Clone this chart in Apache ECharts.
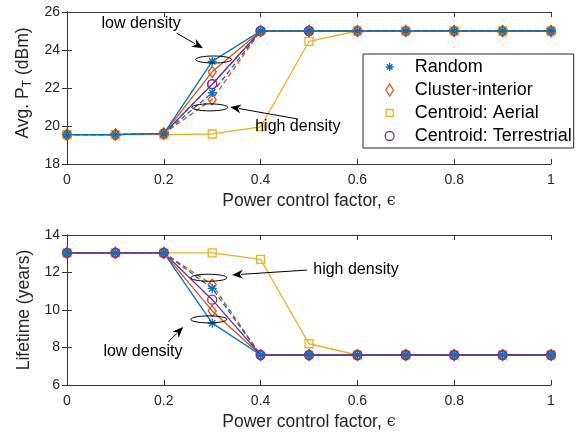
<!DOCTYPE html>
<html>
<head>
<meta charset="utf-8">
<script src="https://cdn.jsdelivr.net/npm/echarts@6/dist/echarts.min.js"></script>
<style>
html, body { margin: 0; padding: 0; background: #fff; }
#main { width: 579px; height: 435px; }
</style>
</head>
<body>
<div id="main"></div>
<script>
// power control factor
const xs = [0, 0.1, 0.2, 0.3, 0.4, 0.5, 0.6, 0.7, 0.8, 0.9, 1]

// Avg. P_T (dBm)
const pRandomLow = [19.55, 19.55, 19.6, 23.4, 25, 25, 25, 25, 25, 25, 25]
const pRandomHigh = [19.55, 19.55, 19.6, 21.75, 25, 25, 25, 25, 25, 25, 25]
const pClusterLow = [19.55, 19.55, 19.6, 22.85, 25, 25, 25, 25, 25, 25, 25]
const pClusterHigh = [19.55, 19.55, 19.6, 21.4, 25, 25, 25, 25, 25, 25, 25]
const pAerial = [19.55, 19.55, 19.55, 19.58, 19.95, 24.45, 25, 25, 25, 25, 25]
const pTerrestrial = [19.55, 19.55, 19.6, 22.2, 25, 25, 25, 25, 25, 25, 25]

// Lifetime (years)
const lRandomLow = [13.05, 13.05, 13.05, 9.3, 7.6, 7.6, 7.6, 7.6, 7.6, 7.6, 7.6]
const lRandomHigh = [13.05, 13.05, 13.05, 11.15, 7.6, 7.6, 7.6, 7.6, 7.6, 7.6, 7.6]
const lClusterLow = [13.05, 13.05, 13.05, 9.95, 7.6, 7.6, 7.6, 7.6, 7.6, 7.6, 7.6]
const lClusterHigh = [13.05, 13.05, 13.05, 11.35, 7.6, 7.6, 7.6, 7.6, 7.6, 7.6, 7.6]
const lAerial = [13.05, 13.05, 13.05, 13.05, 12.7, 8.2, 7.6, 7.6, 7.6, 7.6, 7.6]
const lTerrestrial = [13.05, 13.05, 13.05, 10.55, 7.6, 7.6, 7.6, 7.6, 7.6, 7.6, 7.6]

const names = ['Random', 'Cluster-interior', 'Centroid: Aerial', 'Centroid: Terrestrial']
const colors = ['#0072BD', '#D95319', '#EDB120', '#7E2F8E']

// marker paths (MATLAB style)
const STAR = 'path://M0,-10L0,10M-10,0L10,0M-7,-7L7,7M-7,7L7,-7'
const DIAMOND = 'path://M0,-7L5,0L0,7L-5,0Z'
const SQUARE = 'path://M-5,-5L5,-5L5,5L-5,5Z'
const CIRCLE = 'path://M-5,0A5,5,0,1,1,5,0A5,5,0,1,1,-5,0Z'
const symbols = [STAR, DIAMOND, SQUARE, CIRCLE]
const sizes = [9, [8, 11], 8, 9]

// 图例用的图标：同一个 14x14 外框，方便控制各自大小
const BOX = 'M-7,-7L-7,-7M7,7L7,7'
const legendIcons = [
  'path://' + BOX + 'M0,-4L0,4M-4,0L4,0M-2.8,-2.8L2.8,2.8M-2.8,2.8L2.8,-2.8',
  'path://' + BOX + 'M0,-6L3.8,0L0,6L-3.8,0Z',
  'path://' + BOX + 'M-3.5,-3.5L3.5,-3.5L3.5,3.5L-3.5,3.5Z',
  'path://' + BOX + 'M-4.5,0A4.5,4.5,0,1,1,4.5,0A4.5,4.5,0,1,1,-4.5,0Z'
]

const font = 'Liberation Sans, Arial, Helvetica, sans-serif'
const axisColor = '#333'

// 建一条折线
const mk = (k, ys, dashed, g) => {
  return {
    name: names[k],
    type: 'line',
    xAxisIndex: g * 2,
    yAxisIndex: g * 2,
    data: xs.map((x, i) => [x, ys[i]]),
    symbol: symbols[k],
    symbolSize: sizes[k],
    showAllSymbol: true,
    lineStyle: { color: colors[k], width: 1.3, type: dashed ? [5, 3] : 'solid' },
    itemStyle: { color: 'rgba(0,0,0,0)', borderColor: colors[k], borderWidth: 1.3 },
    emphasis: { disabled: true },
    animation: false
  }
}

const xAxisBase = (g, top) => ({
  type: 'value',
  gridIndex: g,
  min: 0,
  max: 1,
  interval: 0.2,
  position: top ? 'top' : 'bottom',
  name: top ? '' : 'Power control factor, {eps|ϵ}',
  nameLocation: 'middle',
  nameGap: 28,
  nameTextStyle: { fontSize: 17.5, color: '#262626', fontFamily: font, rich: { eps: { fontSize: 16, fontFamily: 'DejaVu Serif', color: '#262626' } } },
  axisLine: { show: true, lineStyle: { color: axisColor, width: 1 } },
  axisTick: { show: true, inside: true, length: 5, lineStyle: { color: axisColor } },
  axisLabel: { show: !top, fontSize: 14, color: '#262626', fontFamily: font, margin: 9, formatter: (v) => String(+v.toFixed(1)) },
  splitLine: { show: false }
})

const yAxisBase = (g, right, min, max, name, shift) => ({
  type: 'value',
  gridIndex: g,
  min: min,
  max: max,
  interval: 2,
  position: right ? 'right' : 'left',
  name: right ? '' : name,
  nameLocation: 'middle',
  nameRotate: 90,
  nameGap: 29,
  nameTextStyle: {
    fontSize: 17.5,
    color: '#262626',
    fontFamily: font,
    padding: [0, 0, 0, shift || 0],
    rich: { sub: { fontSize: 12, color: '#262626', fontFamily: font, padding: [9, 0, 0, 0] } }
  },
  axisLine: { show: true, lineStyle: { color: axisColor, width: 1 } },
  axisTick: { show: true, inside: true, length: 5, lineStyle: { color: axisColor } },
  axisLabel: { show: !right, fontSize: 14, color: '#262626', fontFamily: font, margin: 7 },
  splitLine: { show: false }
})

const chart = echarts.init(document.getElementById('main'))
const option = {
  backgroundColor: '#fff',
  animation: false,
  grid: [
    { left: 67, top: 12, width: 484, height: 152, outerBoundsMode: 'none' },
    { left: 67, top: 235, width: 484, height: 150, outerBoundsMode: 'none' }
  ],
  xAxis: [xAxisBase(0, false), xAxisBase(0, true), xAxisBase(1, false), xAxisBase(1, true)],
  yAxis: [
    yAxisBase(0, false, 18, 26, 'Avg. P{sub|T} (dBm)', 10),
    yAxisBase(0, true, 18, 26, ''),
    yAxisBase(1, false, 6, 14, 'Lifetime (years)'),
    yAxisBase(1, true, 6, 14, '')
  ],
  legend: {
    left: 363,
    top: 54,
    orient: 'vertical',
    backgroundColor: '#fff',
    borderColor: '#262626',
    borderWidth: 1,
    padding: [4, 2, 3, 19],
    itemWidth: 14,
    itemHeight: 14,
    itemGap: 5,
    selectedMode: false,
    textStyle: { fontSize: 18, color: '#000', fontFamily: font, padding: [0, 0, 0, 13] },
    data: names.map((n, k) => ({
      name: n,
      icon: legendIcons[k],
      itemStyle: { color: 'rgba(0,0,0,0)', borderColor: colors[k], borderWidth: 1.3 }
    }))
  },
  series: [
    // top: purple underneath, blue on top
    mk(3, pTerrestrial, false, 0),
    mk(3, pTerrestrial, true, 0),
    mk(2, pAerial, false, 0),
    mk(1, pClusterLow, false, 0),
    mk(0, pRandomLow, false, 0),
    mk(1, pClusterHigh, true, 0),
    mk(0, pRandomHigh, true, 0),
    // bottom: purple on top
    mk(2, lAerial, false, 1),
    mk(1, lClusterLow, false, 1),
    mk(1, lClusterHigh, true, 1),
    mk(0, lRandomLow, false, 1),
    mk(0, lRandomHigh, true, 1),
    mk(3, lTerrestrial, false, 1)
  ]
}
chart.setOption(option)

// 标注：椭圆 + 箭头 + 文字（数据坐标）
const notes = [
  { g: 0, ell: [0.303, 23.5], text: 'low density', at: [0.153, 25.37], from: [0.227, 24.88], to: [0.281, 24.09] },
  { g: 0, ell: [0.295, 20.98], text: 'high density', at: [0.477, 19.95], from: [0.477, 20.37], to: [0.337, 21.0] },
  { g: 1, ell: [0.293, 11.72], text: 'high density', at: [0.597, 12.13], from: [0.496, 12.13], to: [0.341, 11.87] },
  { g: 1, ell: [0.293, 9.5], text: 'low density', at: [0.157, 7.76], from: [0.209, 8.29], to: [0.24, 9.09] }
]
const px = (g, p) => chart.convertToPixel({ gridIndex: g }, p)
const elements = []
notes.forEach((n) => {
  const c = px(n.g, n.ell)
  elements.push({ type: 'ellipse', shape: { cx: c[0], cy: c[1], rx: 18, ry: 3.5 }, style: { fill: null, stroke: '#000', lineWidth: 1 }, z: 100 })
  const a = px(n.g, n.from)
  const b = px(n.g, n.to)
  const dx = b[0] - a[0]
  const dy = b[1] - a[1]
  const len = Math.sqrt(dx * dx + dy * dy)
  const ux = dx / len
  const uy = dy / len
  const hl = 11
  const hw = 4.5
  const bx = b[0] - ux * hl
  const by = b[1] - uy * hl
  elements.push({ type: 'line', shape: { x1: a[0], y1: a[1], x2: bx + ux * 2, y2: by + uy * 2 }, style: { stroke: '#000', lineWidth: 1 }, z: 100 })
  elements.push({
    type: 'polygon',
    shape: { points: [[b[0], b[1]], [bx - uy * hw, by + ux * hw], [b[0] - ux * hl * 0.7, b[1] - uy * hl * 0.7], [bx + uy * hw, by - ux * hw]] },
    style: { fill: '#000' },
    z: 100
  })
  const t = px(n.g, n.at)
  elements.push({ type: 'text', x: t[0], y: t[1], style: { text: n.text, fill: '#000', fontSize: 16, fontFamily: font, align: 'center', verticalAlign: 'middle' }, z: 100 })
})
chart.setOption({ graphic: elements })
</script>
</body>
</html>
